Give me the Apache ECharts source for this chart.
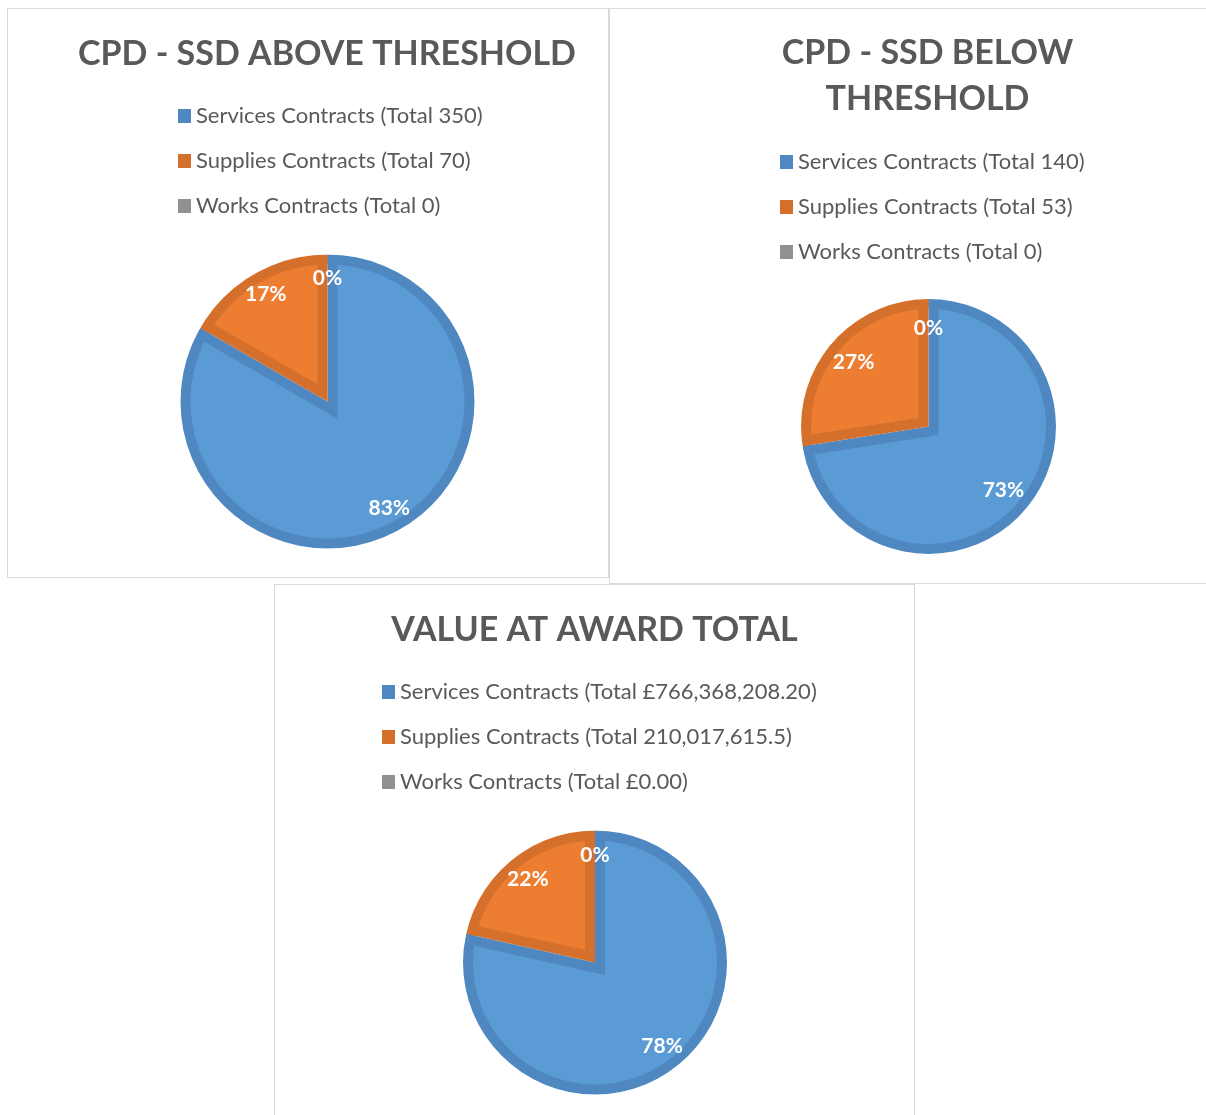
<!DOCTYPE html>
<html>
<head>
<meta charset="utf-8">
<script src="https://cdn.jsdelivr.net/npm/echarts@6/dist/echarts.min.js"></script>
<style>
  body { margin: 0; background: #fff; }
  .panel { position: absolute; border: 1px solid #d9d9d9; background: #fff; }
  #c1 { left: 7px; top: 8px; width: 600px; height: 568px; }
  #c2 { left: 609px; top: 8px; width: 600px; height: 574px; }
  #c3 { left: 274px; top: 584px; width: 639px; height: 600px; }
</style>
</head>
<body>
<div id="c1" class="panel"></div>
<div id="c2" class="panel"></div>
<div id="c3" class="panel"></div>
<script>
// categories and values
var categories = ['Services Contracts', 'Supplies Contracts', 'Works Contracts'];
var aboveValues = [350, 70, 0];
var belowValues = [140, 53, 0];
var awardValues = [766368208.20, 210017615.5, 0];
var aboveTotals = ['350', '70', '0'];
var belowTotals = ['140', '53', '0'];
var awardTotals = ['£766,368,208.20', '210,017,615.5', '£0.00'];

var fillColors = ['#5b9bd5', '#ed7d31', '#a5a5a5'];
var edgeColors = ['#4f88c0', '#d4702c', '#919191'];
var FONT = 'Lato';
var EDGE = 10;   // width of the darker inner edge of each slice

function buildOption(cfg) {
  var names = categories.map(function (c, i) { return c + ' (Total ' + cfg.totals[i] + ')'; });
  var sum = cfg.values.reduce(function (a, b) { return a + b; }, 0);
  var R = cfg.r;
  var base = { type: 'pie', center: cfg.center, startAngle: 90, clockwise: true,
               silent: true, label: { show: false }, labelLine: { show: false } };

  function pie(extra) { return Object.assign({}, base, extra); }

  var series = [];
  // whole slices in the darker edge colour
  series.push(pie({
    z: 1,
    radius: R,
    data: cfg.values.map(function (v, i) {
      return { name: names[i], value: v, itemStyle: { color: edgeColors[i], borderWidth: 0 } };
    })
  }));
  // lighter fill of each slice, pushed in along its bisector so the dark edge shows
  var maxShift = 0;
  cfg.values.forEach(function (v, k) {
    if (!v) return;
    var shift = EDGE / Math.sin(Math.PI * v / sum);
    maxShift = Math.max(maxShift, shift);
    series.push(pie({
      z: 2,
      radius: R + shift,
      selectedMode: 'single',
      selectedOffset: shift,
      data: cfg.values.map(function (w, i) {
        var col = i === k ? fillColors[i] : 'rgba(0,0,0,0)';
        return { name: names[i], value: w, selected: i === k,
                 itemStyle: { color: col, borderWidth: 0 },
                 select: { itemStyle: { color: col, borderWidth: 0 } } };
      })
    }));
  });
  // outer dark rim
  series.push(pie({
    z: 3,
    radius: [R - EDGE, R],
    data: cfg.values.map(function (v, i) {
      return { name: names[i], value: v, itemStyle: { color: edgeColors[i], borderWidth: 0 } };
    })
  }));
  // white ring hiding the shifted fills that stick out past the rim
  series.push(pie({
    z: 3,
    radius: [R, R + 2 * maxShift + 6],
    itemStyle: { color: '#ffffff', borderWidth: 0 },
    data: [{ value: 1, name: '' }]
  }));
  // transparent ring that only carries the percentage labels
  series.push(pie({
    z: 3,
    radius: [R * (2 * cfg.labelAt - 1), R],
    itemStyle: { color: 'rgba(0,0,0,0)', borderWidth: 0 },
    label: {
      show: true, position: 'inside',
      fontFamily: FONT, fontSize: 21, fontWeight: 'bold', color: '#ffffff',
      formatter: function (p) { return Math.round(p.percent) + '%'; }
    },
    data: cfg.values.map(function (v, i) { return { name: names[i], value: v }; })
  }));

  return {
    animation: false,
    title: {
      text: cfg.title,
      left: cfg.titleX, top: cfg.titleY, textAlign: 'center',
      textStyle: { fontFamily: FONT, fontSize: 34, fontWeight: 'bold', color: '#595959', lineHeight: 46 }
    },
    legend: {
      z: 6,
      orient: 'vertical',
      left: cfg.legendX, top: cfg.legendY,
      itemWidth: 13, itemHeight: 14, itemGap: 23,
      selectedMode: false,
      icon: 'rect',
      textStyle: { fontFamily: FONT, fontSize: 22, color: '#595959', lineHeight: 20 },
      data: names.map(function (n, i) {
        return { name: n, itemStyle: { color: edgeColors[i], borderWidth: 0 } };
      })
    },
    series: series
  };
}

var chart1 = echarts.init(document.getElementById('c1'));
chart1.setOption(buildOption({
  title: 'CPD - SSD ABOVE THRESHOLD', titleX: 314, titleY: 17,
  legendX: 165, legendY: 91,
  center: [319.5, 392.5], r: 147, labelAt: 0.82,
  values: aboveValues, totals: aboveTotals
}));

var chart2 = echarts.init(document.getElementById('c2'));
chart2.setOption(buildOption({
  title: 'CPD - SSD BELOW\nTHRESHOLD', titleX: 312.5, titleY: 16,
  legendX: 165, legendY: 137,
  center: [318.5, 417.5], r: 127.5, labelAt: 0.75,
  values: belowValues, totals: belowTotals
}));

var chart3 = echarts.init(document.getElementById('c3'));
chart3.setOption(buildOption({
  title: 'VALUE AT AWARD TOTAL', titleX: 314.5, titleY: 17,
  legendX: 102, legendY: 91,
  center: [320, 377.5], r: 132, labelAt: 0.79,
  values: awardValues, totals: awardTotals
}));
</script>
</body>
</html>
